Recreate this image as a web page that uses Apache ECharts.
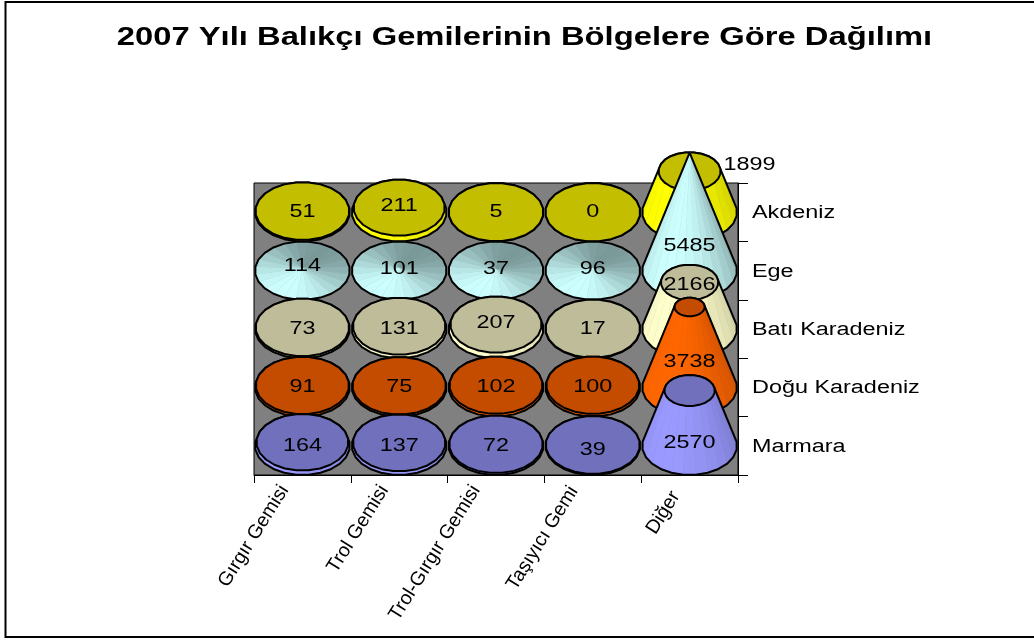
<!DOCTYPE html>
<html><head><meta charset="utf-8">
<style>html,body{margin:0;padding:0;background:#fff}#c{width:1034px;height:641px}</style>
<script src="https://cdn.jsdelivr.net/npm/echarts@6/dist/echarts.min.js"></script>
</head><body><div id="c"></div>
<script>
var chartTitle = '2007 Yılı Balıkçı Gemilerinin Bölgelere Göre Dağılımı';
var gemiTipleri = ['Gırgır Gemisi', 'Trol Gemisi', 'Trol-Gırgır Gemisi', 'Taşıyıcı Gemi', 'Diğer'];
var bolgeler = ['Akdeniz', 'Ege', 'Batı Karadeniz', 'Doğu Karadeniz', 'Marmara'];
var akdeniz = [51, 211, 5, 0, 1899];
var ege = [114, 101, 37, 96, 5485];
var batiKaradeniz = [73, 131, 207, 17, 2166];
var doguKaradeniz = [91, 75, 102, 100, 3738];
var marmara = [164, 137, 72, 39, 2570];

var rows = [akdeniz, ege, batiKaradeniz, doguKaradeniz, marmara];
var sideColors = ['#FFFF00', '#CCFFFF', '#FFFFCC', '#FF6600', '#9999FF'];
var topColors = ['#C4BE00', '#CCFFFF', '#BFBC9A', '#C44C00', '#7070BC'];
var maxValue = 5485;
var FONT = '"Liberation Sans", Arial, sans-serif';
var STRETCH = 1.3;

// label nudges [dx, dy] relative to the base centre, keyed "row,col"
var labelNudge = {
  '0,1': [0, -6], '0,4': [60, -47],
  '1,0': [0, -5], '1,1': [0, -2], '1,2': [0, -2], '1,3': [0, -2], '1,4': [0, -25],
  '2,2': [0, -6], '2,4': [0, -44], '3,4': [0, -25], '4,3': [0, 4], '4,4': [0, -3]
};
// where the slanted category labels end, relative to the band centre
var slantNudge = [[-18, 12], [-15, 12], [-20, 12], [-19, 13], [-14, 18]];

function shade(hex, k) {
  var n = parseInt(hex.slice(1), 16);
  return 'rgb(' + [n >> 16 & 255, n >> 8 & 255, n & 255].map(function (c) { return Math.round(c * k); }).join(',') + ')';
}
function hull(pts) {
  pts = pts.slice().sort(function (a, b) { return a[0] - b[0] || a[1] - b[1]; });
  function cross(o, a, b) { return (a[0] - o[0]) * (b[1] - o[1]) - (a[1] - o[1]) * (b[0] - o[0]); }
  var lo = [], up = [], i;
  for (i = 0; i < pts.length; i++) { while (lo.length > 1 && cross(lo[lo.length - 2], lo[lo.length - 1], pts[i]) <= 0) lo.pop(); lo.push(pts[i]); }
  for (i = pts.length - 1; i >= 0; i--) { while (up.length > 1 && cross(up[up.length - 2], up[up.length - 1], pts[i]) <= 0) up.pop(); up.push(pts[i]); }
  lo.pop(); up.pop();
  return lo.concat(up);
}
function makeRender(r) {
  return function (params, api) {
    var col = api.value(0), value = api.value(2);
    var c = api.coord([col, r]);
    var bw = api.size([1, 0])[0], bh = api.size([0, 1])[1];
    var rx = bw * 0.49, ry = bh * 0.5;
    var ratio = value / maxValue;
    var isFan = r === 1;
    var topK = isFan ? 0 : 1 - ratio;
    var cy2 = c[1] - ratio * 118;
    var N = 24, base = [], top = [], facets = [], kids = [], i;
    for (i = 0; i < N; i++) {
      var a = (i + 0.5) / N * Math.PI * 2;
      base.push([c[0] + rx * Math.cos(a), c[1] + ry * Math.sin(a)]);
      top.push([c[0] + rx * topK * Math.cos(a), cy2 + ry * topK * Math.sin(a)]);
    }
    for (i = 0; i < N; i++) {
      var j = (i + 1) % N, am = (i + 1) / N * Math.PI * 2;
      var k = isFan
        ? 0.6 + 0.4 * (0.5 + 0.5 * (-0.5 * Math.cos(am) + 0.866 * Math.sin(am)))
        : 0.78 + 0.22 * (0.5 + 0.5 * (-0.6 * Math.cos(am) + 0.8 * Math.sin(am)));
      facets.push({ order: Math.sin(am), k: k, pts: [base[i], base[j], top[j], top[i]] });
    }
    facets.sort(function (p, q) { return p.order - q.order; });
    facets.forEach(function (f) {
      kids.push({ type: 'polygon', shape: { points: f.pts },
        style: { fill: shade(sideColors[r], f.k), stroke: shade(sideColors[r], f.k), lineWidth: 0.4 } });
    });
    kids.push({ type: 'polygon', shape: { points: hull(base.concat(top)) },
      style: { fill: 'none', stroke: '#000', lineWidth: 2, lineJoin: 'round' } });
    if (!isFan) {
      kids.push({ type: 'polygon', shape: { points: top },
        style: { fill: topColors[r], stroke: '#000', lineWidth: 2, lineJoin: 'round' } });
    }
    var n = labelNudge[r + ',' + col] || [0, 0];
    kids.push({ type: 'text', z2: 10, x: c[0] + n[0], y: c[1] + n[1], scaleX: STRETCH,
      style: { x: 0, y: 0, text: String(value), fill: '#000', font: '18px ' + FONT, align: 'center', verticalAlign: 'middle' } });
    return { type: 'group', children: kids };
  };
}
var chart = echarts.init(document.getElementById('c'), null, { renderer: 'canvas' });
var series = rows.map(function (vals, r) {
  return { type: 'custom', name: bolgeler[r], coordinateSystem: 'cartesian2d', clip: false,
    renderItem: makeRender(r), z: 5, encode: { x: 0, y: 1 },
    data: vals.map(function (v, c) { return [c, r, v]; }) };
});
// stretched row names on the right
series.push({ type: 'custom', name: 'Bölgeler', coordinateSystem: 'cartesian2d', clip: false, z: 6,
  silent: true, encode: { x: 0, y: 1 },
  data: bolgeler.map(function (b, i) { return [4, i]; }),
  renderItem: function (params, api) {
    var c = api.coord([api.value(0), api.value(1)]);
    var bw = api.size([1, 0])[0];
    return { type: 'text', x: c[0] + bw / 2 + 14, y: c[1] + 1, scaleX: STRETCH,
      style: { x: 0, y: 0, text: bolgeler[api.value(1)], fill: '#000', font: '18px ' + FONT, align: 'left', verticalAlign: 'middle' } };
  } });
// slanted category names below
series.push({ type: 'custom', name: 'Gemi tipleri', coordinateSystem: 'cartesian2d', clip: false, z: 6,
  silent: true, encode: { x: 0, y: 1 },
  data: gemiTipleri.map(function (g, i) { return [i, 4]; }),
  renderItem: function (params, api) {
    var i = api.value(0), c = api.coord([i, 4]);
    var bh = api.size([0, 1])[1];
    return { type: 'text', x: c[0] + slantNudge[i][0], y: c[1] + bh / 2 + slantNudge[i][1], rotation: Math.PI * 58 / 180,
      style: { x: 0, y: 0, text: gemiTipleri[i], fill: '#000', font: '19.5px ' + FONT, align: 'right', verticalAlign: 'middle' } };
  } });
chart.setOption({
  animation: false,
  backgroundColor: '#fff',
  graphic: [
    { type: 'polyline', silent: true, z: -1, shape: { points: [[1034, 2], [5.5, 2], [5.5, 637], [1034, 637]] },
      style: { fill: 'none', stroke: '#000', lineWidth: 2 } },
    { type: 'text', silent: true, x: 524.5, y: 38, scaleX: 1.31,
      style: { x: 0, y: 0, text: chartTitle, fill: '#000', font: 'bold 25px ' + FONT, align: 'center', verticalAlign: 'middle' } }
  ],
  grid: { left: 254, top: 183, width: 484, height: 292, backgroundColor: '#808080', show: true, borderColor: '#000', borderWidth: 1 },
  xAxis: { type: 'category', data: gemiTipleri, position: 'bottom', boundaryGap: true,
    axisTick: { show: true, alignWithLabel: false, length: 8, lineStyle: { color: '#000' } },
    axisLine: { lineStyle: { color: '#000' } }, splitLine: { show: false },
    axisLabel: { show: false, interval: 0 } },
  yAxis: { type: 'category', data: bolgeler, inverse: true, position: 'right', boundaryGap: true,
    axisTick: { show: true, length: 10, lineStyle: { color: '#000' } },
    axisLine: { lineStyle: { color: '#000' } }, splitLine: { show: false },
    axisLabel: { show: false, interval: 0 } },
  series: series
});
</script></body></html>
